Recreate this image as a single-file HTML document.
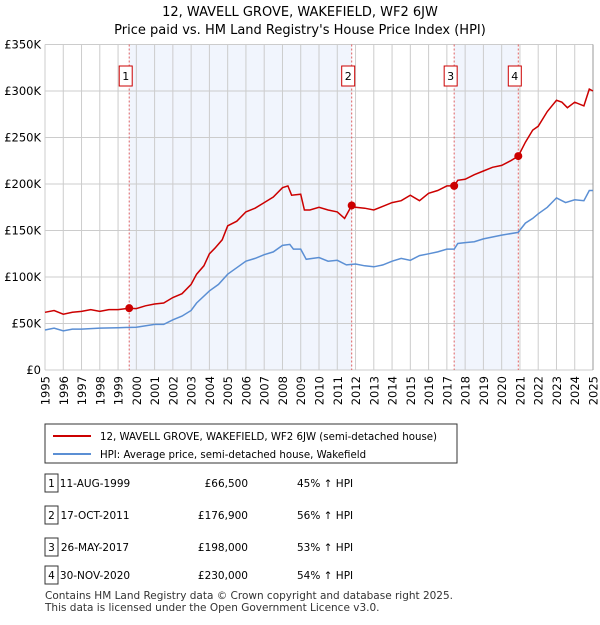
<!DOCTYPE html>
<html><head><meta charset="utf-8"><style>
body{margin:0;background:#fff;font-family:"Liberation Sans","DejaVu Sans",sans-serif;}
svg text{font-family:"DejaVu Sans","Liberation Sans",sans-serif;}
</style></head><body>
<svg id="chart" width="600" height="620" xmlns="http://www.w3.org/2000/svg">
<text x="300" y="16" text-anchor="middle" font-size="13">12, WAVELL GROVE, WAKEFIELD, WF2 6JW</text>
<text x="300" y="34" text-anchor="middle" font-size="13">Price paid vs. HM Land Registry's House Price Index (HPI)</text>
<g id="plot"></g>
<g>
<rect x="45" y="424" width="412" height="39" fill="#fff" stroke="#333"/>
<line x1="53" y1="436" x2="91" y2="436" stroke="#cc0000" stroke-width="2"/>
<text x="100" y="440" font-size="10.2">12, WAVELL GROVE, WAKEFIELD, WF2 6JW (semi-detached house)</text>
<line x1="53" y1="454" x2="91" y2="454" stroke="#5b8fd4" stroke-width="2"/>
<text x="100" y="458" font-size="10.2">HPI: Average price, semi-detached house, Wakefield</text>
</g>
<g id="table" font-size="10.5"></g>
<text x="45" y="599" font-size="10.5" fill="#333" textLength="408">Contains HM Land Registry data © Crown copyright and database right 2025.</text>
<text x="45" y="611" font-size="10.5" fill="#333">This data is licensed under the Open Government Licence v3.0.</text>
</svg>
<script>
const yearTicks=[1995,1996,1997,1998,1999,2000,2001,2002,2003,2004,2005,2006,2007,2008,2009,2010,2011,2012,2013,2014,2015,2016,2017,2018,2019,2020,2021,2022,2023,2024,2025];
const priceTicks=[0,50,100,150,200,250,300,350];
const priceLabels=["£0","£50K","£100K","£150K","£200K","£250K","£300K","£350K"];
const redX=[1995,1995.5,1996,1996.5,1997,1997.5,1998,1998.5,1999,1999.61,2000,2000.5,2001,2001.5,2002,2002.5,2003,2003.3,2003.7,2004,2004.3,2004.7,2005,2005.5,2006,2006.5,2007,2007.5,2008,2008.3,2008.5,2009,2009.2,2009.5,2010,2010.5,2011,2011.4,2011.79,2012,2012.5,2013,2013.5,2014,2014.5,2015,2015.5,2016,2016.5,2017,2017.4,2017.6,2018,2018.5,2019,2019.5,2020,2020.5,2020.91,2021.3,2021.7,2022,2022.5,2023,2023.3,2023.6,2024,2024.5,2024.8,2025];
const redY=[62,64,60,62,63,65,63,65,65,66.5,66,69,71,72,78,82,92,103,112,125,131,140,155,160,170,174,180,186,196,198,188,189,172,172,175,172,170,163,176.9,175,174,172,176,180,182,188,182,190,193,198,198,204,205,210,214,218,220,225,230,245,258,262,278,290,288,282,288,284,302,300];
const blueX=[1995,1995.5,1996,1996.5,1997,1998,1999,2000,2001,2001.5,2002,2002.5,2003,2003.3,2004,2004.5,2005,2005.5,2006,2006.5,2007,2007.5,2008,2008.4,2008.6,2009,2009.3,2010,2010.5,2011,2011.5,2012,2012.5,2013,2013.5,2014,2014.5,2015,2015.5,2016,2016.5,2017,2017.4,2017.6,2018,2018.5,2019,2019.5,2020,2020.9,2021.3,2021.7,2022,2022.5,2023,2023.5,2024,2024.5,2024.8,2025];
const blueY=[43,45,42,44,44,45,45.5,46,49,49,54,58,64,72,85,92,103,110,117,120,124,127,134,135,130,130,119,121,117,118,113,114,112,111,113,117,120,118,123,125,127,130,130,136,137,138,141,143,145,148,158,163,168,175,185,180,183,182,193,193];
const saleLabels=["1","2","3","4"];
const saleDates=[1999.61,2011.79,2017.4,2020.91];
const salePrices=[66.5,176.9,198,230];
const saleDateText=["11-AUG-1999","17-OCT-2011","26-MAY-2017","30-NOV-2020"];
const salePriceText=["£66,500","£176,900","£198,000","£230,000"];
const saleHpiText=["45% ↑ HPI","56% ↑ HPI","53% ↑ HPI","54% ↑ HPI"];
const NS="http://www.w3.org/2000/svg";
const X0=45,X1=593,Y0=370,Y1=44.5;
const xs=v=>X0+(v-1995)/30*(X1-X0);
const ys=v=>Y0-v/350*(Y0-Y1);
const plot=document.getElementById('plot');
function mk(tag,attrs,parent){const e=document.createElementNS(NS,tag);for(const k in attrs)e.setAttribute(k,attrs[k]);(parent||plot).appendChild(e);return e;}
mk('rect',{x:X0,y:Y1,width:X1-X0,height:Y0-Y1,fill:'#fff'});
const bands=[[0,1],[2,3]];
bands.forEach(b=>{const r=mk('rect',{x:xs(saleDates[b[0]]),y:Y1,width:xs(saleDates[b[1]])-xs(saleDates[b[0]]),height:Y0-Y1,fill:'#eef3fc',opacity:0.8});

});
yearTicks.forEach(y=>{const l=mk('line',{x1:xs(y),x2:xs(y),y1:Y1,y2:Y0,stroke:'#ccc'});


const t=mk('text',{x:0,y:0,'font-size':11.5,'text-anchor':'end',transform:`translate(${xs(y)+4.5},${Y0+6}) rotate(-90)`});


t.textContent=y;});
priceTicks.forEach((p,i)=>{const l=mk('line',{x1:X0,x2:X1,y1:ys(p),y2:ys(p),stroke:'#ccc'});


const t=mk('text',{x:X0-4,y:ys(p)+4,'font-size':11.5,'text-anchor':'end'});


t.textContent=priceLabels[i];});
mk('line',{x1:X1,x2:X1,y1:Y1,y2:Y0,stroke:'#999'});
saleDates.forEach((d,i)=>{const l=mk('line',{x1:xs(d),x2:xs(d),y1:Y1,y2:Y0,stroke:'#e06060','stroke-dasharray':'2,2'});


const r=mk('rect',{x:xs(d)-10,y:66,width:13,height:20,fill:'#fff',stroke:'#cc0000'});


const t=mk('text',{x:xs(d)-3.5,y:80,'font-size':11,'text-anchor':'middle'});


t.textContent=saleLabels[i];});
const pts=(a,b)=>a.map((v,i)=>xs(v).toFixed(1)+','+ys(b[i]).toFixed(1)).join(' ');
const bl=mk('polyline',{points:pts(blueX,blueY),fill:'none',stroke:'#5b8fd4','stroke-width':1.5});


const rl=mk('polyline',{points:pts(redX,redY),fill:'none',stroke:'#cc0000','stroke-width':1.5});


saleDates.forEach((d,i)=>{const c=mk('circle',{cx:xs(d),cy:ys(salePrices[i]),r:4,fill:'#cc0000'});

});
const tb=document.getElementById('table');
const rowY=[483,515,547,575];
saleLabels.forEach((s,i)=>{const y=rowY[i];
const r=mk('rect',{x:45,y:y-9,width:13,height:18,fill:'#fff',stroke:'#333'},tb);


const cells=[[51.5,s,'middle'],[61,saleDateText[i],'start'],[248,salePriceText[i],'end'],[297,saleHpiText[i],'start']];
cells.forEach((c,j)=>{const a={x:c[0],y:y+4,'text-anchor':c[2]};if(j==1){a.x=95;a['text-anchor']='middle';}
const t=mk('text',a,tb);


t.textContent=c[1];});});
</script>
</body></html>
